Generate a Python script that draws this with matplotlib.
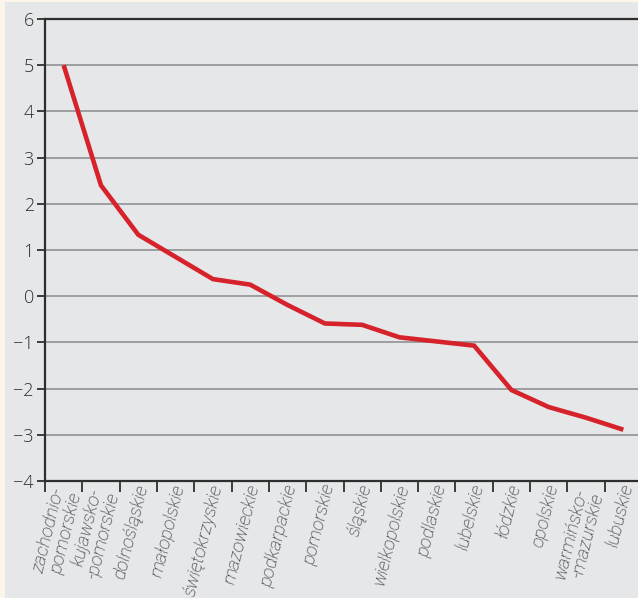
import matplotlib.pyplot as plt
from matplotlib.patches import Rectangle

# Regions and values
regions = ['zachodnio-\npomorskie', 'kujawsko-\n-pomorskie', 'dolnośląskie',
           'małopolskie', 'świętokrzyskie', 'mazowieckie', 'podkarpackie',
           'pomorskie', 'śląskie', 'wielkopolskie', 'podlaskie', 'lubelskie',
           'łódzkie', 'opolskie', 'warmińsko-\n-mazurskie', 'lubuskie']
values = [5.0, 2.4, 1.33, 0.85, 0.37, 0.25, -0.19, -0.59, -0.62, -0.89,
          -0.98, -1.07, -2.03, -2.4, -2.63, -2.89]
y_ticks = [6, 5, 4, 3, 2, 1, 0, -1, -2, -3, -4]

cream = '#fdf5ea'
panel = '#e6e7e9'
dark = '#2e2e2e'

fig = plt.figure(figsize=(6.38, 5.98), dpi=100, facecolor=cream)
# Gray panel behind the chart
fig.patches.append(Rectangle((5 / 638, 0), 1, 1 - 2 / 598, transform=fig.transFigure,
                             facecolor=panel, edgecolor='none', zorder=-10))

ax = fig.add_axes([45 / 638, 1 - 481 / 598, 597 / 638, 462 / 598])
ax.set_facecolor(panel)
ax.set_zorder(2)

x = [i + 0.5 for i in range(len(regions))]
ax.plot(x, values, color='#d6222b', lw=3.3, solid_capstyle='butt',
        solid_joinstyle='miter', zorder=3)

ax.set_xlim(0, len(regions))
ax.set_ylim(-4, 6)
ax.set_yticks(y_ticks)
ax.set_yticklabels([str(v).replace('-', '\u2212') for v in y_ticks],
                   fontsize=13, color=dark, family='Open Sans', fontweight='light')
for v in y_ticks[1:-1]:
    ax.axhline(v, color='#9c9d9f', lw=1.4, zorder=1)

# Tick marks at category boundaries
ax.set_xticks(range(len(regions)))
ax.set_xticklabels([])
ax.tick_params(axis='x', length=8, width=1.3, color=dark, direction='out')
ax.tick_params(axis='y', length=6, width=1.3, color=dark, pad=2)

# Rotated category labels, two-line ones pushed a bit lower
for xi, name in zip(x, regions):
    drop = 0.022 if '\n' in name else 0.008
    ax.text(xi + 0.12, -drop, name, transform=ax.get_xaxis_transform(),
            rotation=76, ha='right', va='center', rotation_mode='anchor',
            fontsize=13.5, style='italic', fontweight='light', family='Roboto',
            color='#1c1c1c', linespacing=0.95, clip_on=False)

for side in ['left', 'bottom', 'top']:
    ax.spines[side].set_color(dark)
    ax.spines[side].set_linewidth(1.6)
ax.spines['right'].set_visible(False)

fig.savefig('out.png', dpi=100, facecolor=cream)
